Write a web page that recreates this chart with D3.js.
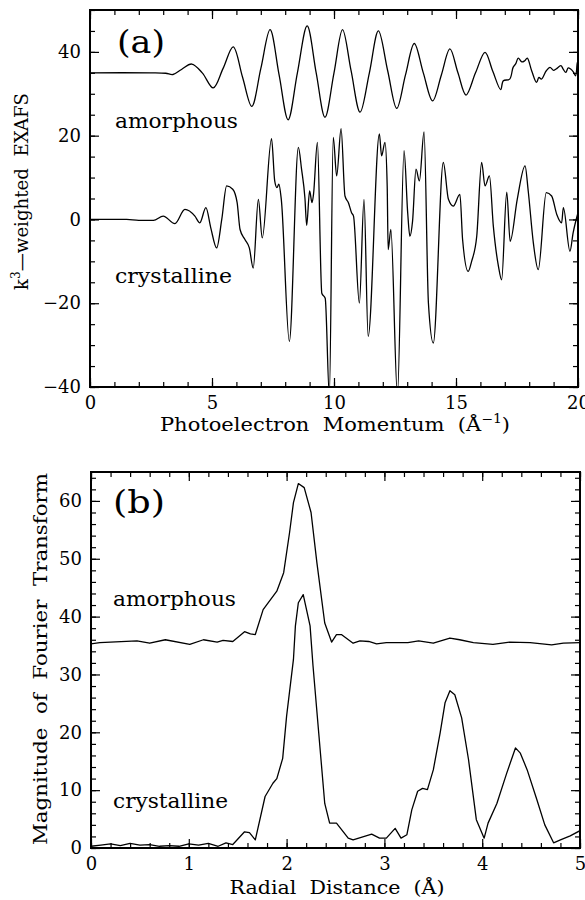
<!DOCTYPE html>
<html>
<head>
<meta charset="utf-8">
<script src="https://cdn.jsdelivr.net/npm/d3@7"></script>
<style>
  body { margin: 0; background: #fff; }
  .tick text { font-family: "DejaVu Serif", serif; font-size: 18px; fill: #000; }
  .tick line { stroke: #000; stroke-width: 1.2; }
  .curve { fill: none; stroke: #000; stroke-width: 1.3; stroke-linejoin: round; }
  .frame { fill: none; stroke: #000; stroke-width: 2; }
  .axisLabel { font-family: "DejaVu Serif", serif; font-size: 18px; white-space: pre; }
  .note { font-family: "DejaVu Serif", serif; font-size: 21px; }
  .panelTag { font-family: "DejaVu Serif", serif; font-size: 32px; }
</style>
</head>
<body>
<svg id="chart" width="585" height="900"></svg>
<script>
"use strict";

// ---- panel (a) : k^3-weighted EXAFS vs photoelectron momentum ----
var amorphousK = [0, 2.5, 3.1, 3.4, 3.75, 4.17, 4.6, 5.05, 5.45, 5.87, 6.25, 6.63, 7.0, 7.38, 7.75, 8.12,
  8.5, 8.9, 9.27, 9.63, 10.0, 10.35, 10.7, 11.07, 11.45, 11.82, 12.2, 12.57, 12.93, 13.29, 13.66,
  14.04, 14.4, 14.75, 15.08, 15.41, 15.8, 16.19, 16.5, 16.83, 16.94, 17.2, 17.34, 17.45, 17.55, 17.7,
  17.82, 17.92, 18.1, 18.3, 18.4, 18.5, 18.7, 18.85, 19.0, 19.1, 19.3, 19.4, 19.5, 19.6, 19.7, 19.8,
  19.9, 19.97, 20.0];
var amorphousExafs = [35, 35, 34.9, 34.6, 35.8, 37.1, 35, 31.4, 36, 41.2, 34, 27, 36, 45.3, 34.5, 23.8,
  35, 46.2, 35, 24.4, 35, 45.3, 35.5, 25.6, 35, 45, 35.5, 26.5, 34.5, 42, 35,
  28.3, 34.5, 40.7, 35, 29.7, 35, 39.9, 35.5, 31, 33.1, 33.5, 36.3, 37.2, 38.5, 37.6,
  37.9, 38.5, 35.5, 32.7, 33.9, 33.5, 35.5, 36.3, 35.6, 35.9, 36.7, 35.8, 35.1, 36.2, 35.9, 35.3,
  34.3, 37.5, 33];

var crystallineK = [0, 1.5, 2.0, 2.6, 3.0, 3.48, 3.89, 4.3, 4.5, 4.75, 4.95, 5.19, 5.4, 5.6, 5.85, 6.03,
  6.15, 6.35, 6.53, 6.69, 6.9, 7.06, 7.44, 7.57, 7.66, 7.74, 7.84, 8.17, 8.54, 8.67, 8.81, 8.88,
  9.0, 9.1, 9.16, 9.32, 9.5, 9.64, 9.81, 9.97, 10.11, 10.29, 10.45, 10.59, 10.72, 10.8, 11.04, 11.23,
  11.4, 11.86, 11.95, 12.09, 12.18, 12.22, 12.33, 12.6, 12.87, 13.02, 13.11, 13.22, 13.36, 13.5, 13.69,
  13.87, 14.07, 14.48, 14.69, 14.89, 15.16, 15.27, 15.5, 15.64, 15.85, 16.05, 16.19, 16.37, 16.53,
  16.74, 16.87, 17.08, 17.22, 17.51, 17.83, 17.96, 18.17, 18.37, 18.7, 18.92, 19.13, 19.33, 19.4,
  19.67, 19.8, 20.0];
var crystallineExafs = [0, 0, -0.2, -0.2, 0.8, -1.0, 2.4, 0.8, -0.8, 2.8, -2, -6.8, 0, 8, 7.2, 4,
  -2.4, -4.8, -6.8, -11.6, 4.8, -4.4, 19.3, 9.2, 7.6, 8.4, 4.8, -29.1, 17.2, 12, 5, -1.4,
  6.8, 4.0, 6.0, 18.4, -17.6, -18.8, -42, 19.6, 10.4, 21.7, 5.6, 4, 1.6, 0.8, -20, 4.8,
  -27.9, 20.4, 15.2, 18.4, 8, -7.2, -2.4, -42, 16.4, 1.6, -4, -0.4, 12, 9.2, 20.9,
  -20, -29.5, 13.6, 4.8, 3.2, 6, -4.8, -12.4, -10, -4, 13.6, 8, 10.4, -1.6,
  -11.2, -14.4, 6.5, -5.2, 4.8, 12.8, 6.8, -5.6, -12, 6.4, 5.6, 1.2, -0.8, 2.8,
  -7.6, -3.2, 1.6];

var xTicksA = [0, 5, 10, 15, 20];
var yTicksA = [-40, -20, 0, 20, 40];

// ---- panel (b) : magnitude of Fourier transform vs radial distance ----
var amorphousR = [0, 0.09, 0.47, 0.6, 0.76, 1.01, 1.15, 1.29, 1.35, 1.45, 1.57, 1.63, 1.68, 1.76, 1.9,
  1.97, 2.03, 2.07, 2.12, 2.18, 2.25, 2.31, 2.39, 2.46, 2.51, 2.56, 2.68, 2.75, 2.84, 2.92, 3.02,
  3.24, 3.35, 3.5, 3.67, 3.77, 3.91, 4.11, 4.28, 4.49, 4.71, 4.83, 5.0];
var amorphousFT = [35.3, 35.5, 35.8, 35.4, 36, 35.2, 36, 35.6, 35.9, 35.7, 37.4, 37, 36.9, 41.2, 44.4,
  47.6, 54.5, 59.7, 63, 62.3, 58, 49.3, 38.9, 35.6, 36.9, 36.9, 35.4, 35.8, 35.7, 35.3, 35.5,
  35.5, 35.8, 35.4, 36.3, 36, 35.5, 35.2, 35.6, 35.5, 35.1, 35.4, 35.5];

var crystallineR = [0, 0.1, 0.2, 0.3, 0.4, 0.5, 0.6, 0.7, 0.8, 0.9, 1.0, 1.1, 1.2, 1.3, 1.38, 1.45,
  1.57, 1.62, 1.68, 1.78, 1.86, 1.9, 1.96, 2.0, 2.07, 2.09, 2.12, 2.17, 2.24, 2.27, 2.34, 2.39,
  2.44, 2.51, 2.63, 2.68, 2.87, 2.95, 3.02, 3.11, 3.17, 3.23, 3.28, 3.34, 3.39, 3.44, 3.5, 3.57,
  3.62, 3.67, 3.72, 3.79, 3.86, 3.94, 4.02, 4.06, 4.15, 4.25, 4.34, 4.39, 4.46, 4.56, 4.64, 4.73,
  4.8, 4.9, 5.0];
var crystallineFT = [0.3, 0.5, 0.7, 0.4, 0.8, 0.5, 0.6, 0.3, 0.4, 0.3, 0.7, 0.5, 0.8, 0.3, 0.9, 0.6,
  2.8, 2.65, 1.4, 8.9, 11.2, 12, 15.5, 22.8, 32.6, 38.4, 42.4, 43.8, 38.4, 31.5, 17.6, 7.7,
  4.3, 4.3, 1.7, 1.4, 2.4, 1.7, 1.7, 3.4, 1.7, 2.3, 6.6, 9.8, 10.3, 10.1, 13.5, 19.9,
  25.1, 27.2, 26.5, 22.5, 15.3, 4.9, 1.7, 4.3, 7.7, 12.9, 17.3, 16.4, 13.5, 8.3, 4, 0.9,
  1.4, 2.1, 3.0];

var xTicksB = [0, 1, 2, 3, 4, 5];
var yTicksB = [0, 10, 20, 30, 40, 50, 60];

var _svg = d3.select("#chart");

function zipSeries(xs, ys) {
  return xs.map(function(v, i) { return {x: v, y: ys[i]}; });
}

function _drawPanel(cfg) {
  var w = cfg.right - cfg.left, h = cfg.bottom - cfg.top;
  var xScale = d3.scaleLinear().domain(cfg.xDomain).range([0, w]);
  var yScale = d3.scaleLinear().domain(cfg.yDomain).range([h, 0]);

  var g = _svg.append("g")
    .attr("transform", "translate(" + cfg.left + "," + cfg.top + ")");

  g.append("clipPath").attr("id", cfg.id + "Clip")
    .append("rect").attr("width", w).attr("height", h);

  // ticks on all four sides, pointing inward
  function addAxis(axisFn, scale, values, size, pos, labels) {
    var ax = axisFn(scale).tickValues(values).tickSizeInner(-size).tickSizeOuter(0).tickPadding(9)
      .tickFormat(labels ? d3.format("d") : "");
    g.append("g").attr("transform", pos).call(ax)
      .call(function(s) { s.select(".domain").remove(); });
  }
  addAxis(d3.axisBottom, xScale, cfg.xMinor, 5, "translate(0," + h + ")", false);
  addAxis(d3.axisBottom, xScale, cfg.xTicks, 9, "translate(0," + h + ")", true);
  addAxis(d3.axisTop, xScale, cfg.xMinor, 5, "translate(0,0)", false);
  addAxis(d3.axisTop, xScale, cfg.xTicks, 9, "translate(0,0)", false);
  addAxis(d3.axisLeft, yScale, cfg.yMinor, 5, "translate(0,0)", false);
  addAxis(d3.axisLeft, yScale, cfg.yTicks, 9, "translate(0,0)", true);
  addAxis(d3.axisRight, yScale, cfg.yMinor, 5, "translate(" + w + ",0)", false);
  addAxis(d3.axisRight, yScale, cfg.yTicks, 9, "translate(" + w + ",0)", false);

  var line = d3.line()
    .x(function(d) { return xScale(d.x); })
    .y(function(d) { return yScale(d.y); });

  cfg.series.forEach(function(s) {
    g.append("path")
      .attr("class", "curve")
      .attr("clip-path", "url(#" + cfg.id + "Clip)")
      .attr("d", line.curve(s.curve || d3.curveLinear)(zipSeries(s.xs, s.ys)));
  });

  g.append("rect").attr("class", "frame").attr("width", w).attr("height", h);
}

_drawPanel({
  id: "panelA", left: 90, right: 578, top: 10, bottom: 387,
  xDomain: [0, 20], yDomain: [-40, 50],
  xTicks: xTicksA, xMinor: d3.range(0, 20.01, 1),
  yTicks: yTicksA, yMinor: d3.range(-40, 50.01, 5),
  series: [
    {xs: amorphousK, ys: amorphousExafs, curve: d3.curveCatmullRom.alpha(0.5)},
    {xs: crystallineK, ys: crystallineExafs, curve: d3.curveMonotoneX}
  ]
});

_drawPanel({
  id: "panelB", left: 91, right: 580, top: 472, bottom: 848,
  xDomain: [0, 5], yDomain: [0, 65],
  xTicks: xTicksB, xMinor: d3.range(0, 5.001, 0.2),
  yTicks: yTicksB, yMinor: d3.range(0, 65.01, 2),
  series: [
    {xs: amorphousR, ys: amorphousFT},
    {xs: crystallineR, ys: crystallineFT}
  ]
});

// axis titles
var t;
t = _svg.append("text").attr("class", "axisLabel")
  .attr("x", 335).attr("y", 431).attr("text-anchor", "middle")
  .attr("textLength", 350).attr("lengthAdjust", "spacingAndGlyphs");
t.append("tspan").text("Photoelectron  Momentum  (Å");
t.append("tspan").attr("dy", -8).style("font-size", "12px").text("−1");
t.append("tspan").attr("dy", 8).text(")");

t = _svg.append("text").attr("class", "axisLabel")
  .attr("transform", "translate(28,191.5) rotate(-90)").attr("text-anchor", "middle")
  .attr("textLength", 197).attr("lengthAdjust", "spacingAndGlyphs");
t.append("tspan").text("k");
t.append("tspan").attr("dy", -8).style("font-size", "12px").text("3");
t.append("tspan").attr("dy", 8).text("—weighted  EXAFS");

_svg.append("text").attr("class", "axisLabel")
  .attr("x", 337).attr("y", 894).attr("text-anchor", "middle")
  .attr("textLength", 215).attr("lengthAdjust", "spacingAndGlyphs")
  .text("Radial  Distance  (Å)");

_svg.append("text").attr("class", "axisLabel")
  .attr("transform", "translate(47,659) rotate(-90)").attr("text-anchor", "middle")
  .attr("textLength", 372).attr("lengthAdjust", "spacingAndGlyphs")
  .text("Magnitude  of  Fourier  Transform");

// in-plot annotations
var notes = [
  {text: "(a)", x: 117, y: 53, cls: "panelTag", len: 48},
  {text: "amorphous", x: 115, y: 128, cls: "note", len: 123},
  {text: "crystalline", x: 115, y: 283, cls: "note", len: 117},
  {text: "(b)", x: 113, y: 513, cls: "panelTag", len: 52},
  {text: "amorphous", x: 113, y: 606, cls: "note", len: 123},
  {text: "crystalline", x: 113, y: 808, cls: "note", len: 115}
];
_svg.selectAll("text.annot").data(notes).enter().append("text")
  .attr("class", function(d) { return "annot " + d.cls; })
  .attr("x", function(d) { return d.x; })
  .attr("y", function(d) { return d.y; })
  .attr("textLength", function(d) { return d.len; })
  .attr("lengthAdjust", "spacingAndGlyphs")
  .text(function(d) { return d.text; });
</script>
</body>
</html>
